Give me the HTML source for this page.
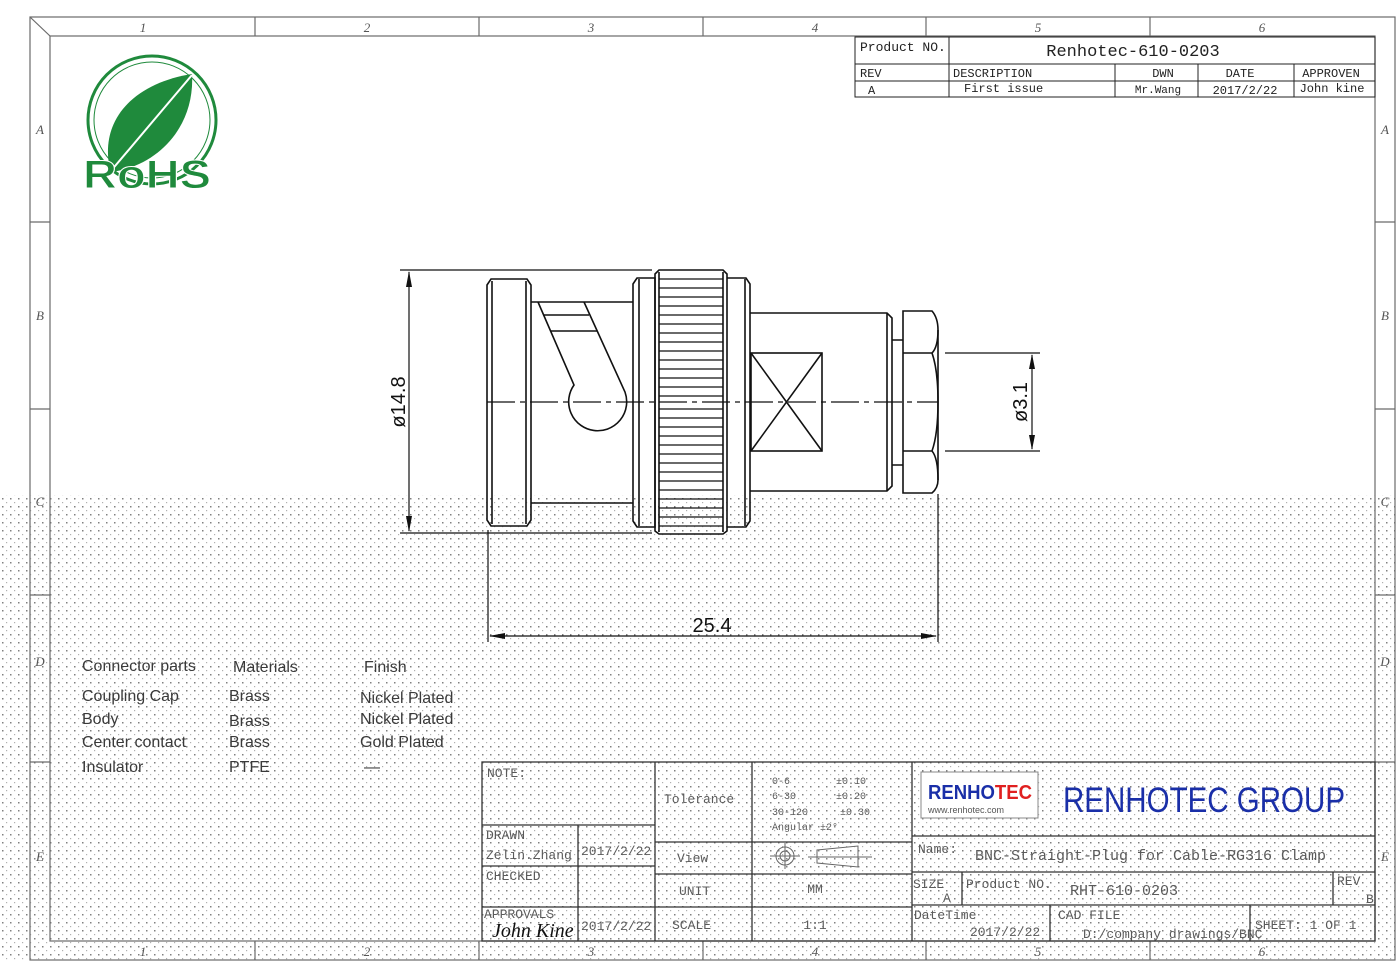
<!DOCTYPE html>
<html><head><meta charset="utf-8"><style>
html,body{margin:0;padding:0;background:#fff}
body{width:1397px;height:962px;overflow:hidden;position:relative}
svg{position:absolute;left:0;top:0}
</style></head><body>
<svg width="1397" height="962" viewBox="0 0 1397 962" xmlns="http://www.w3.org/2000/svg">
<defs>
<pattern id="dots" x="0" y="0" width="8" height="8" patternUnits="userSpaceOnUse">
<rect x="2" y="2" width="1.5" height="1.5" fill="#808080"/>
<rect x="6" y="6" width="1.2" height="1.2" fill="#b0b0b0"/>
</pattern>
</defs>
<rect x="0" y="495" width="1397" height="467" fill="url(#dots)"/>
<!-- frame -->
<g fill="none" stroke="#6a6a6a" stroke-width="1.2">
<rect x="30" y="17" width="1365" height="943"/>
<rect x="50" y="36" width="1325" height="905"/>
<line x1="30" y1="17" x2="50" y2="36"/>
<line x1="255" y1="17" x2="255" y2="36"/><line x1="479" y1="17" x2="479" y2="36"/>
<line x1="703" y1="17" x2="703" y2="36"/><line x1="926" y1="17" x2="926" y2="36"/>
<line x1="1150" y1="17" x2="1150" y2="36"/>
<line x1="255" y1="941" x2="255" y2="960"/><line x1="479" y1="941" x2="479" y2="960"/>
<line x1="703" y1="941" x2="703" y2="960"/><line x1="926" y1="941" x2="926" y2="960"/>
<line x1="1150" y1="941" x2="1150" y2="960"/>
<line x1="30" y1="222" x2="50" y2="222"/><line x1="30" y1="409" x2="50" y2="409"/>
<line x1="30" y1="595" x2="50" y2="595"/><line x1="30" y1="762" x2="50" y2="762"/>
<line x1="1375" y1="222" x2="1395" y2="222"/><line x1="1375" y1="409" x2="1395" y2="409"/>
<line x1="1375" y1="595" x2="1395" y2="595"/><line x1="1375" y1="762" x2="1395" y2="762"/>
</g>
<g font-family="Liberation Serif, serif" font-size="13" fill="#555" text-anchor="middle" font-style="italic">
<text x="143" y="32">1</text><text x="367" y="32">2</text><text x="591" y="32">3</text><text x="815" y="32">4</text><text x="1038" y="32">5</text><text x="1262" y="32">6</text>
<text x="143" y="956">1</text><text x="367" y="956">2</text><text x="591" y="956">3</text><text x="815" y="956">4</text><text x="1038" y="956">5</text><text x="1262" y="956">6</text>
<text x="40" y="134">A</text><text x="40" y="320">B</text><text x="40" y="506">C</text><text x="40" y="666">D</text><text x="40" y="861">E</text>
<text x="1385" y="134">A</text><text x="1385" y="320">B</text><text x="1385" y="506">C</text><text x="1385" y="666">D</text><text x="1385" y="861">E</text>
</g>
<!-- RoHS logo -->
<g>
<circle cx="152" cy="120" r="64" fill="none" stroke="#1f8a3c" stroke-width="3"/>
<circle cx="152" cy="120" r="58" fill="none" stroke="#1f8a3c" stroke-width="1"/>
<path d="M110 170 C98 115 140 82 192 74 C195 125 160 165 112 172 Z" fill="#1f8a3c"/>
<line x1="110" y1="172" x2="192" y2="75" stroke="#fff" stroke-width="2"/>
<text x="150" y="158" font-family="Liberation Sans, sans-serif" font-size="8" fill="#fff" transform="rotate(-45 160 145)">Green Product</text>
<text x="147" y="188" font-family="Liberation Sans, sans-serif" font-weight="bold" font-size="40" fill="#1f8a3c" stroke="#fff" stroke-width="1" text-anchor="middle" textLength="128" lengthAdjust="spacingAndGlyphs">RoHS</text>
</g>
<!-- top-right table -->
<g fill="none" stroke="#222" stroke-width="1">
<rect x="855" y="37" width="520" height="60"/>
<line x1="949" y1="37" x2="949" y2="97"/>
<line x1="855" y1="64" x2="1375" y2="64"/>
<line x1="855" y1="81" x2="1375" y2="81"/>
<line x1="1115" y1="64" x2="1115" y2="97"/>
<line x1="1198" y1="64" x2="1198" y2="97"/>
<line x1="1294" y1="64" x2="1294" y2="97"/>
</g>
<g font-family="Liberation Mono, monospace" fill="#222">
<text x="860" y="51" font-size="13">Product NO.</text>
<text x="1133" y="56" font-size="17" text-anchor="middle">Renhotec-610-0203</text>
<text x="860" y="77" font-size="12">REV</text>
<text x="953" y="77" font-size="12">DESCRIPTION</text>
<text x="1163" y="77" font-size="12" text-anchor="middle">DWN</text>
<text x="1240" y="77" font-size="12" text-anchor="middle">DATE</text>
<text x="1331" y="77" font-size="12" text-anchor="middle">APPROVEN</text>
<text x="868" y="94" font-size="12">A</text>
<text x="964" y="92" font-size="12">First issue</text>
<text x="1158" y="93" font-size="11" text-anchor="middle">Mr.Wang</text>
<text x="1245" y="94" font-size="12" text-anchor="middle">2017/2/22</text>
<text x="1332" y="92" font-size="12" text-anchor="middle">John kine</text>
</g>
<!-- connector drawing -->
<g fill="none" stroke="#111" stroke-width="1.6">
<path d="M487 285 L491 279 L527 279 L531 285 L531 520 L527 526 L491 526 L487 520 Z"/>
<line x1="492" y1="281" x2="492" y2="524"/><line x1="526" y1="281" x2="526" y2="524"/>
<line x1="531" y1="302" x2="633" y2="302"/><line x1="531" y1="503" x2="633" y2="503"/>
<path d="M538 302 L574 385 A29 29 0 1 0 625 392 L584 302"/>
<line x1="543" y1="315" x2="589" y2="315"/><line x1="551" y1="331" x2="597" y2="331"/>
<path d="M633 284 L637 278 L655 278 L655 527 L637 527 L633 521 Z"/>
<line x1="639" y1="279" x2="639" y2="526"/>
<path d="M655 274 L659 270 L723 270 L727 274 L727 531 L723 534 L659 534 L655 531 Z"/>
<line x1="659" y1="272" x2="659" y2="532"/><line x1="723" y1="272" x2="723" y2="532"/>
<path d="M727 278 L746 278 L750 284 L750 521 L746 527 L727 527"/>
<line x1="745" y1="279" x2="745" y2="526"/>
<path d="M750 313 L887 313 L892 318 L892 486 L887 491 L750 491"/>
<line x1="887" y1="313" x2="887" y2="491"/>
<rect x="751" y="353" width="71" height="98"/>
<line x1="751" y1="353" x2="822" y2="451"/><line x1="822" y1="353" x2="751" y2="451"/>
<path d="M892 340 L903 340 M892 465 L903 465"/>
<path d="M903 311 L932 311 Q938 318 938 330 L938 480 Q938 488 932 493 L903 493 Z"/>
<path d="M903 353 L932 353 Q938 347 938 330 M932 353 Q938 370 938 402 Q938 434 932 451 M903 451 L932 451 Q938 458 938 480"/>
</g>
<g stroke="#111" stroke-width="1.3">
<line x1="659" y1="279" x2="723" y2="279"/><line x1="659" y1="288" x2="723" y2="288"/><line x1="659" y1="297" x2="723" y2="297"/><line x1="659" y1="306" x2="723" y2="306"/><line x1="659" y1="315" x2="723" y2="315"/><line x1="659" y1="324" x2="723" y2="324"/><line x1="659" y1="333" x2="723" y2="333"/><line x1="659" y1="342" x2="723" y2="342"/><line x1="659" y1="351" x2="723" y2="351"/><line x1="659" y1="360" x2="723" y2="360"/><line x1="659" y1="369" x2="723" y2="369"/><line x1="659" y1="378" x2="723" y2="378"/><line x1="659" y1="387" x2="723" y2="387"/><line x1="659" y1="396" x2="723" y2="396"/><line x1="659" y1="409" x2="723" y2="409"/><line x1="659" y1="418" x2="723" y2="418"/><line x1="659" y1="427" x2="723" y2="427"/><line x1="659" y1="436" x2="723" y2="436"/><line x1="659" y1="445" x2="723" y2="445"/><line x1="659" y1="454" x2="723" y2="454"/><line x1="659" y1="463" x2="723" y2="463"/><line x1="659" y1="472" x2="723" y2="472"/><line x1="659" y1="481" x2="723" y2="481"/><line x1="659" y1="490" x2="723" y2="490"/><line x1="659" y1="499" x2="723" y2="499"/><line x1="659" y1="508" x2="723" y2="508"/><line x1="659" y1="517" x2="723" y2="517"/><line x1="659" y1="526" x2="723" y2="526"/>
</g>
<line x1="487" y1="402" x2="938" y2="402" stroke="#111" stroke-width="1.2" stroke-dasharray="28,5,5,5"/>
<g stroke="#111" stroke-width="1.2" fill="none">
<line x1="400" y1="270" x2="652" y2="270"/><line x1="400" y1="533" x2="652" y2="533"/>
<line x1="409" y1="272" x2="409" y2="531"/>
<line x1="945" y1="353" x2="1040" y2="353"/><line x1="945" y1="451" x2="1040" y2="451"/>
<line x1="1032" y1="355" x2="1032" y2="449"/>
<line x1="488" y1="530" x2="488" y2="642"/><line x1="938" y1="494" x2="938" y2="642"/>
<line x1="490" y1="636" x2="936" y2="636"/>
</g>
<g fill="#111">
<path d="M409 271 L406 287 L412 287 Z"/><path d="M409 532 L406 516 L412 516 Z"/>
<path d="M1032 354 L1029 369 L1035 369 Z"/><path d="M1032 450 L1029 435 L1035 435 Z"/>
<path d="M489 636 L505 633 L505 639 Z"/><path d="M937 636 L921 633 L921 639 Z"/>
</g>
<g font-family="Liberation Sans, sans-serif" font-size="20" fill="#111" text-anchor="middle">
<text transform="translate(405,402) rotate(-90)">ø14.8</text>
<text transform="translate(1027,402) rotate(-90)">ø3.1</text>
<text x="712" y="632">25.4</text>
</g>
<g font-family="Liberation Sans, sans-serif" font-size="16" fill="#3a3a3a">
<text x="82" y="671">Connector parts</text><text x="233" y="672">Materials</text><text x="364" y="672">Finish</text>
<text x="82" y="701">Coupling Cap</text><text x="229" y="701">Brass</text><text x="360" y="703">Nickel Plated</text>
<text x="82" y="724">Body</text><text x="229" y="726">Brass</text><text x="360" y="724">Nickel Plated</text>
<text x="82" y="747">Center contact</text><text x="229" y="747">Brass</text><text x="360" y="747">Gold Plated</text>
<text x="82" y="772">Insulator</text><text x="229" y="772">PTFE</text><text x="364" y="772">—</text>
</g>
<g fill="none" stroke="#333" stroke-width="1.3">
<rect x="482" y="762" width="893" height="179"/>
<line x1="655" y1="762" x2="655" y2="941"/><line x1="752" y1="762" x2="752" y2="941"/><line x1="912" y1="762" x2="912" y2="941"/>
<line x1="482" y1="825" x2="655" y2="825"/><line x1="482" y1="866" x2="655" y2="866"/><line x1="482" y1="907" x2="655" y2="907"/>
<line x1="578" y1="825" x2="578" y2="941"/>
<line x1="655" y1="842" x2="912" y2="842"/><line x1="655" y1="874" x2="912" y2="874"/><line x1="655" y1="907" x2="912" y2="907"/>
<line x1="912" y1="836" x2="1375" y2="836"/><line x1="912" y1="872" x2="1375" y2="872"/><line x1="912" y1="905" x2="1375" y2="905"/>
<line x1="962" y1="872" x2="962" y2="905"/><line x1="1333" y1="872" x2="1333" y2="905"/>
<line x1="1050" y1="905" x2="1050" y2="941"/><line x1="1250" y1="905" x2="1250" y2="941"/>
</g>
<g font-family="Liberation Mono, monospace" fill="#5a5a5a" font-size="13">
<text x="487" y="777">NOTE:</text>
<text x="486" y="839">DRAWN</text>
<text x="486" y="859">Zelin.Zhang</text>
<text x="581" y="855">2017/2/22</text>
<text x="486" y="880">CHECKED</text>
<text x="484" y="918">APPROVALS</text>
<text x="581" y="930">2017/2/22</text>
<text x="664" y="803">Tolerance</text>
<text x="677" y="862">View</text>
<text x="679" y="895">UNIT</text>
<text x="672" y="929">SCALE</text>
<text x="815" y="893" text-anchor="middle">MM</text>
<text x="815" y="929" text-anchor="middle">1:1</text>
<text x="918" y="853">Name:</text>
<text x="975" y="860" font-size="15">BNC-Straight-Plug for Cable-RG316 Clamp</text>
<text x="913" y="888">SIZE</text><text x="943" y="902">A</text>
<text x="966" y="888">Product NO.</text>
<text x="1070" y="895" font-size="15">RHT-610-0203</text>
<text x="1337" y="885">REV</text><text x="1366" y="903">B</text>
<text x="914" y="919">DateTime</text>
<text x="970" y="936">2017/2/22</text>
<text x="1058" y="919">CAD FILE</text>
<text x="1083" y="938">D:/company drawings/BNC</text>
<text x="1255" y="929">SHEET: 1 OF 1</text>
</g>
<g font-family="Liberation Mono, monospace" fill="#5a5a5a" font-size="10">
<text x="772" y="784">0-6</text><text x="836" y="784">±0.10</text>
<text x="772" y="799">6-30</text><text x="836" y="799">±0.20</text>
<text x="772" y="815">30-120</text><text x="840" y="815">±0.30</text>
<text x="772" y="830">Angular ±2°</text>
</g>
<text x="492" y="937" font-family="Liberation Serif, serif" font-style="italic" font-size="20" fill="#111">John Kine</text>
<g fill="none" stroke="#666" stroke-width="1">
<circle cx="785" cy="856" r="9"/><circle cx="785" cy="856" r="5"/>
<line x1="770" y1="856" x2="800" y2="856"/><line x1="785" y1="843" x2="785" y2="869"/>
<path d="M817 850 L858 846 L858 867 L817 863 Z"/><line x1="808" y1="857" x2="872" y2="857"/>
</g>
<rect x="921" y="772" width="117" height="46" fill="#fff" stroke="#888" stroke-width="1"/>
<text x="928" y="799" font-family="Liberation Sans, sans-serif" font-weight="bold" font-size="20" fill="#1a2fa8" textLength="104" lengthAdjust="spacingAndGlyphs">RENHO<tspan fill="#e02020">TEC</tspan></text>
<text x="928" y="813" font-family="Liberation Sans, sans-serif" font-size="9" fill="#555">www.renhotec.com</text>
<text x="1063" y="812" font-family="Liberation Sans, sans-serif" font-size="35" fill="#1a2fa8" textLength="282" lengthAdjust="spacingAndGlyphs">RENHOTEC GROUP</text>
</svg>
</body></html>
